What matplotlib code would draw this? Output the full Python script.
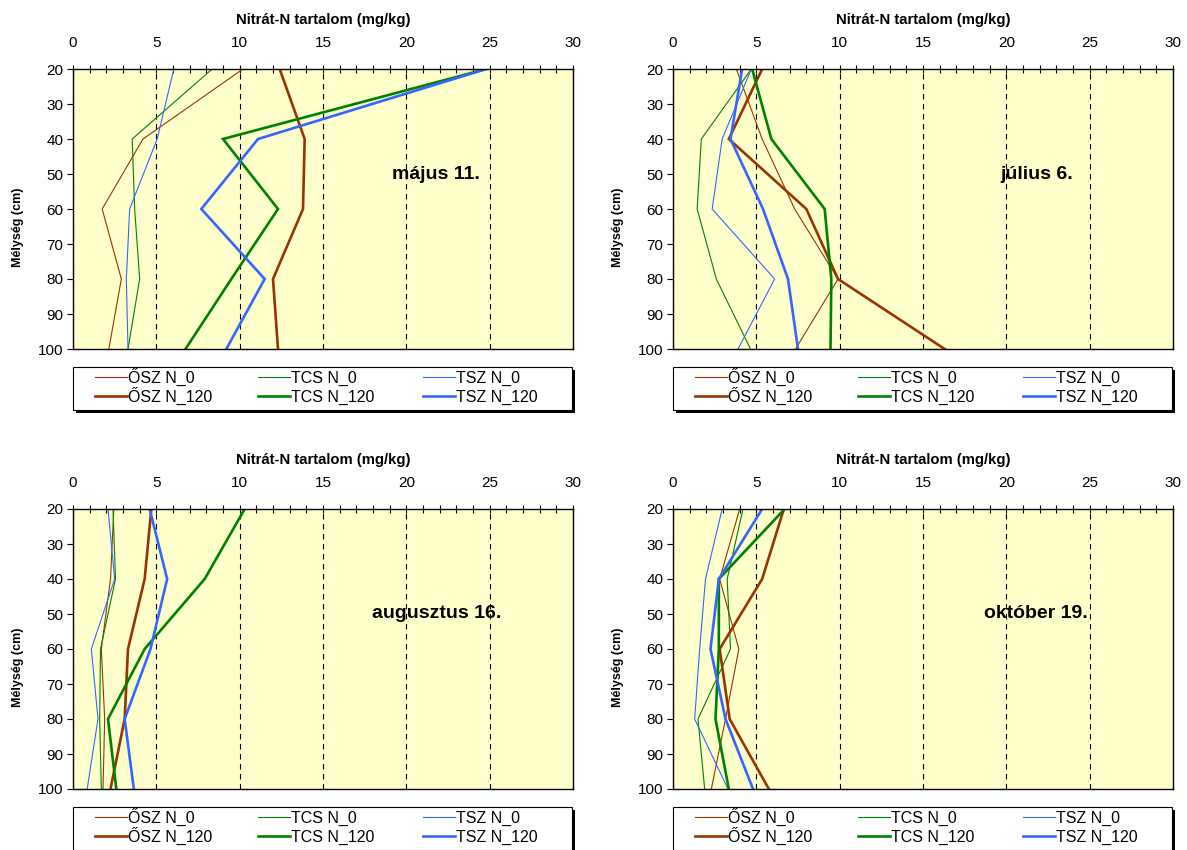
#!/usr/bin/env python3
"""Nitrát-N profilok négy mintavételi időpontban (2x2 panel)."""

import matplotlib
matplotlib.use("Agg")
import matplotlib.pyplot as plt
from matplotlib.lines import Line2D
from matplotlib.patches import Rectangle
from matplotlib.ticker import MultipleLocator

plt.rcParams['font.family'] = ['Liberation Sans', 'DejaVu Sans']

# Mélység (cm)
depth = [20, 40, 60, 80, 100]

# május 11.
maj_osz_0 = [10.2, 4.2, 1.75, 2.9, 2.15]
maj_tcs_0 = [8.35, 3.55, 3.7, 4.0, 3.3]
maj_tsz_0 = [6.05, 5.05, 3.4, 3.2, 3.3]
maj_osz_120 = [12.4, 13.9, 13.8, 12.0, 12.3]
maj_tcs_120 = [24.8, 9.0, 12.3, 9.5, 6.75]
maj_tsz_120 = [24.8, 11.1, 7.7, 11.5, 9.2]

# július 6.
jul_osz_0 = [3.8, 5.35, 7.3, 9.9, 7.35]
jul_tcs_0 = [4.7, 1.7, 1.45, 2.6, 4.65]
jul_tsz_0 = [4.7, 2.95, 2.35, 6.1, 3.9]
jul_osz_120 = [5.35, 3.35, 8.0, 9.9, 16.3]
jul_tcs_120 = [4.75, 5.9, 9.1, 9.5, 9.45]
jul_tsz_120 = [4.15, 3.45, 5.4, 6.9, 7.5]

# augusztus 16.
aug_osz_0 = [2.45, 2.25, 1.7, 1.9, 1.8]
aug_tcs_0 = [2.4, 2.55, 1.65, 1.6, 1.7]
aug_tsz_0 = [2.1, 2.5, 1.1, 1.5, 0.85]
aug_osz_120 = [4.7, 4.3, 3.3, 3.1, 2.25]
aug_tcs_120 = [10.3, 7.9, 4.3, 2.1, 2.6]
aug_tsz_120 = [4.6, 5.65, 4.65, 3.1, 3.65]

# október 19.
okt_osz_0 = [4.0, 2.8, 3.95, 3.15, 2.3]
okt_tcs_0 = [4.2, 3.25, 3.45, 1.5, 1.9]
okt_tsz_0 = [2.95, 1.95, 1.6, 1.3, 3.3]
okt_osz_120 = [6.65, 5.35, 2.8, 3.4, 5.75]
okt_tcs_120 = [6.7, 2.75, 2.75, 2.55, 3.35]
okt_tsz_120 = [5.35, 2.75, 2.25, 3.15, 4.8]

dates = ["május 11.", "július 6.", "augusztus 16.", "október 19."]
series_labels = ["ŐSZ N_0", "TCS N_0", "TSZ N_0", "ŐSZ N_120", "TCS N_120", "TSZ N_120"]

panel_data = [
    [maj_osz_0, maj_tcs_0, maj_tsz_0, maj_osz_120, maj_tcs_120, maj_tsz_120],
    [jul_osz_0, jul_tcs_0, jul_tsz_0, jul_osz_120, jul_tcs_120, jul_tsz_120],
    [aug_osz_0, aug_tcs_0, aug_tsz_0, aug_osz_120, aug_tcs_120, aug_tsz_120],
    [okt_osz_0, okt_tcs_0, okt_tsz_0, okt_osz_120, okt_tcs_120, okt_tsz_120],
]

BROWN = '#993300'
GREEN = '#008000'
BLUE = '#3366FF'
colors = [BROWN, GREEN, BLUE, BROWN, GREEN, BLUE]
widths = [0.8, 0.8, 0.8, 1.9, 1.9, 1.9]

W, H = 1187, 850
fig = plt.figure(figsize=(W / 100, H / 100), dpi=100)

# axes position in pixels: (left, top)
positions = [(73, 69), (673, 69), (73, 509), (673, 509)]
AX_W, AX_H = 500, 280


def fx(px):
    return px / W


def fy(px):
    return 1 - px / H


for (left, top), date, values in zip(positions, dates, panel_data):
    ax = fig.add_axes([fx(left), fy(top + AX_H), AX_W / W, AX_H / H])
    ax.set_facecolor('#FFFFCC')

    for vals, c, lw, lab in zip(values, colors, widths, series_labels):
        ax.plot(vals, depth, color=c, lw=lw, label=lab, solid_joinstyle='miter')

    ax.set_xlim(0, 30)
    ax.set_ylim(100, 20)

    ax.xaxis.tick_top()
    ax.xaxis.set_label_position('top')
    ax.xaxis.set_major_locator(MultipleLocator(5))
    ax.xaxis.set_minor_locator(MultipleLocator(1))
    ax.yaxis.set_major_locator(MultipleLocator(10))
    ax.tick_params(axis='x', which='both', direction='inout', length=6, width=0.8,
                   labelsize=11, pad=10.5)
    ax.tick_params(axis='y', which='major', direction='out', length=4, width=0.8,
                   labelsize=11, pad=3)

    ax.grid(axis='x', which='major', color='black', lw=0.8, ls=(0, (5, 4)))
    for sp in ax.spines.values():
        sp.set_linewidth(1.0)

    ax.set_xlabel('Nitrát-N tartalom (mg/kg)', fontsize=10.7, fontweight='bold', labelpad=9)
    ax.set_ylabel('Mélység (cm)', fontsize=9, fontweight='bold')
    ax.yaxis.set_label_coords(-0.098, 0.436)

    ax.text(21.8, 50, date, fontsize=14, fontweight='bold', ha='center', va='center')

    # legend box with black drop shadow
    bx0, by0 = left, top + AX_H + 18
    bw, bh = 499, 43
    fig.add_artist(Rectangle((fx(bx0 + 3), fy(by0 + bh + 3)), bw / W, bh / H,
                             transform=fig.transFigure, facecolor='black',
                             edgecolor='none', zorder=1))
    fig.add_artist(Rectangle((fx(bx0), fy(by0 + bh)), bw / W, bh / H,
                             transform=fig.transFigure, facecolor='white',
                             edgecolor='black', lw=0.8, zorder=2))

    # legend entries: three columns, N_0 on the first row, N_120 on the second
    col_offsets = [22, 185, 350]
    row_centres = [by0 + 10, by0 + 29]
    for i, (c, lw, lab) in enumerate(zip(colors, widths, series_labels)):
        x0 = left + col_offsets[i % 3]
        yc = row_centres[i // 3]
        fig.add_artist(Line2D([fx(x0), fx(x0 + 32)], [fy(yc), fy(yc)],
                              transform=fig.transFigure, color=c, lw=lw, zorder=3))
        fig.text(fx(x0 + 33), fy(yc + 5.5), lab, fontsize=11.5, ha='left',
                 va='baseline', zorder=3)

fig.savefig('out.png', dpi=100)
